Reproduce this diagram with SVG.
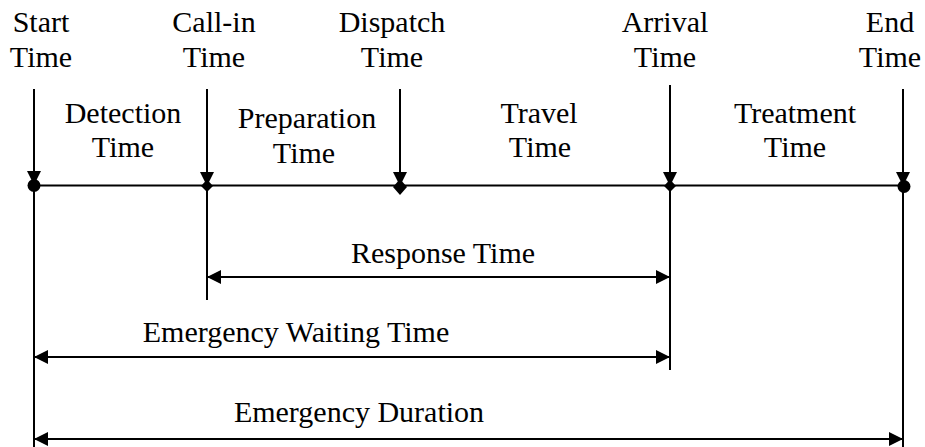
<svg xmlns="http://www.w3.org/2000/svg" width="925" height="447" viewBox="0 0 925 447">
  <defs>
    <!-- filled triangular arrowhead, tip at the path end -->
    <marker id="arrow" markerUnits="userSpaceOnUse" markerWidth="14" markerHeight="14" refX="14" refY="7" orient="auto-start-reverse">
      <path d="M0,0 L14,7 L0,14 z" fill="#000"/>
    </marker>
  </defs>
  <style>
    .lbl { font-family: "Liberation Serif", "Times New Roman", serif; font-size: 30px; fill: #000; text-anchor: middle; }
    .ln { stroke: #000; stroke-width: 2; fill: none; }
    .arr { stroke: #000; stroke-width: 2; fill: none; marker-end: url(#arrow); }
    .dbl { stroke: #000; stroke-width: 2; fill: none; marker-start: url(#arrow); marker-end: url(#arrow); }
    .mk { fill: #000; stroke: none; }
  </style>

  <rect width="925" height="447" fill="#fff"/>

  <!-- connectors: timeline, event ticks, extension lines and span arrows -->
  <g id="connectors">
    <line class="ln" x1="34" y1="185.5" x2="903" y2="185.5"/>
    <line class="arr" x1="34" y1="89" x2="34" y2="185"/>
    <line class="arr" x1="207" y1="89" x2="207" y2="186"/>
    <line class="arr" x1="400" y1="89" x2="400" y2="186"/>
    <line class="arr" x1="670" y1="85" x2="670" y2="186"/>
    <line class="arr" x1="903" y1="89" x2="903" y2="186"/>
    <line class="ln" x1="34" y1="185" x2="34" y2="447"/>
    <line class="ln" x1="207" y1="186" x2="207" y2="300"/>
    <line class="ln" x1="670" y1="186" x2="670" y2="370"/>
    <line class="ln" x1="903" y1="186" x2="903" y2="447"/>
    <line class="dbl" x1="207" y1="277" x2="670" y2="277"/>
    <line class="dbl" x1="34" y1="357" x2="670" y2="357"/>
    <line class="dbl" x1="34" y1="439" x2="903" y2="439"/>
  </g>

  <!-- event nodes on the timeline -->
  <g id="start">
    <circle class="mk" cx="34" cy="185.5" r="6.5"/>
    <text class="lbl" x="41" y="32">Start</text>
    <text class="lbl" x="41" y="67">Time</text>
  </g>
  <g id="call-in">
    <path class="mk" d="M207,179.5 L213,186 L207,192 L201,186 z"/>
    <text class="lbl" x="214" y="32">Call-in</text>
    <text class="lbl" x="214" y="67">Time</text>
  </g>
  <g id="dispatch">
    <path class="mk" d="M400,179 L407,187 L400,195 L393,187 z"/>
    <text class="lbl" x="392" y="32">Dispatch</text>
    <text class="lbl" x="392" y="67">Time</text>
  </g>
  <g id="arrival">
    <path class="mk" d="M670,179.5 L676,186 L670,192 L664,186 z"/>
    <text class="lbl" x="665" y="32">Arrival</text>
    <text class="lbl" x="665" y="67">Time</text>
  </g>
  <g id="end">
    <circle class="mk" cx="904" cy="186.5" r="6.5"/>
    <text class="lbl" x="890" y="32">End</text>
    <text class="lbl" x="890" y="67">Time</text>
  </g>

  <!-- interval labels between events -->
  <g id="detection">
    <text class="lbl" x="123" y="123">Detection</text>
    <text class="lbl" x="123" y="157">Time</text>
  </g>
  <g id="preparation">
    <text class="lbl" x="307" y="128">Preparation</text>
    <text class="lbl" x="304" y="163">Time</text>
  </g>
  <g id="travel">
    <text class="lbl" x="539" y="123">Travel</text>
    <text class="lbl" x="540" y="157">Time</text>
  </g>
  <g id="treatment">
    <text class="lbl" x="795" y="123">Treatment</text>
    <text class="lbl" x="795" y="157">Time</text>
  </g>

  <!-- span labels -->
  <g id="response">
    <text class="lbl" x="443" y="263">Response Time</text>
  </g>
  <g id="waiting">
    <text class="lbl" x="296" y="342">Emergency Waiting Time</text>
  </g>
  <g id="duration">
    <text class="lbl" x="359" y="422">Emergency Duration</text>
  </g>
</svg>
